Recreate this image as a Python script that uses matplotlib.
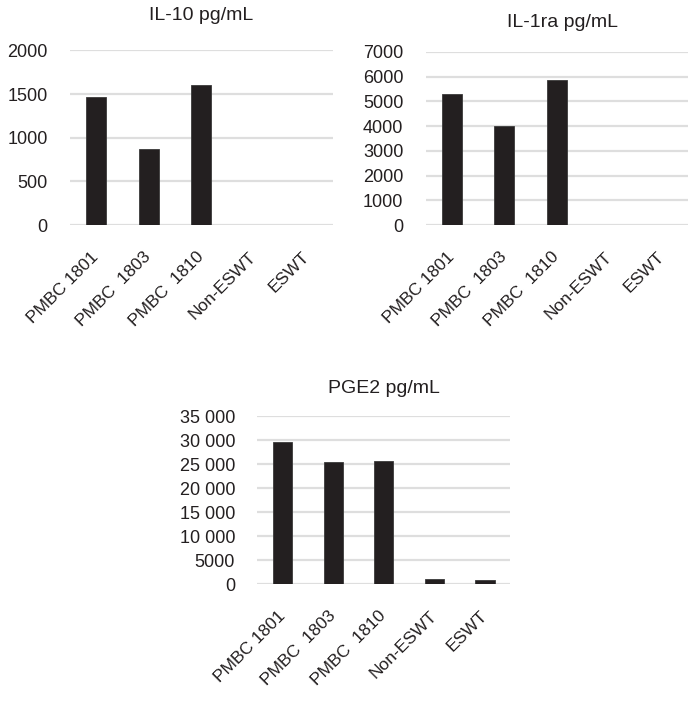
import matplotlib
matplotlib.use("Agg")
import matplotlib.pyplot as plt
from matplotlib.ticker import FuncFormatter

plt.rcParams['font.family'] = ['Liberation Sans', 'DejaVu Sans']

categories = ["PMBC 1801", "PMBC  1803", "PMBC  1810", "Non-ESWT", "ESWT"]
il10_values = [1470, 870, 1600, 0, 0]
il1ra_values = [5280, 4000, 5870, 0, 0]
pge2_values = [29600, 25400, 25600, 1100, 900]

il10_ticks = [0, 500, 1000, 1500, 2000]
il1ra_ticks = [0, 1000, 2000, 3000, 4000, 5000, 6000, 7000]
pge2_ticks = [0, 5000, 10000, 15000, 20000, 25000, 30000, 35000]

fig = plt.figure(figsize=(6.99, 7.10), dpi=100)

def fmt_space(v, pos):
    v = int(round(v))
    if v >= 10000:
        return f"{v:,}".replace(",", " ")
    return str(v)

def panel(rect, title, values, ticks, title_pad, title_x=0.5, fmt=None):
    ax = fig.add_axes(rect)
    x = range(len(categories))
    ax.bar(x, values, width=0.38, color='#231f20', edgecolor='#3a3a3a', linewidth=0.6, zorder=3)
    ax.set_xlim(-0.5, len(categories) - 0.5)
    ax.set_ylim(0, ticks[-1])
    ax.set_yticks(ticks)
    if fmt:
        ax.yaxis.set_major_formatter(FuncFormatter(fmt))
    ax.grid(axis='y', color='#dedede', linewidth=1.6, zorder=0)
    ax.set_axisbelow(True)
    for s in ax.spines.values():
        s.set_visible(False)
    ax.tick_params(axis='y', length=0, labelsize=13, colors='#231f20', pad=16)
    ax.set_xticks(list(x))
    ax.set_xticklabels(categories, rotation=45, ha='right', va='center',
                       rotation_mode='anchor', fontsize=12.5, color='#231f20')
    ax.tick_params(axis='x', length=0, pad=21)
    ax.set_title(title, fontsize=14, pad=title_pad, x=title_x, color='#231f20')
    return ax

panel([0.100, 0.683, 0.376, 0.246], "IL-10 pg/mL", il10_values, il10_ticks, 22)
panel([0.609, 0.683, 0.375, 0.244], "IL-1ra pg/mL", il1ra_values, il1ra_ticks, 18, 0.523)
panel([0.368, 0.177, 0.362, 0.237], "PGE2 pg/mL", pge2_values, pge2_ticks, 16.5, 0.5, fmt_space)

fig.savefig("out.png", dpi=100, facecolor='white')
